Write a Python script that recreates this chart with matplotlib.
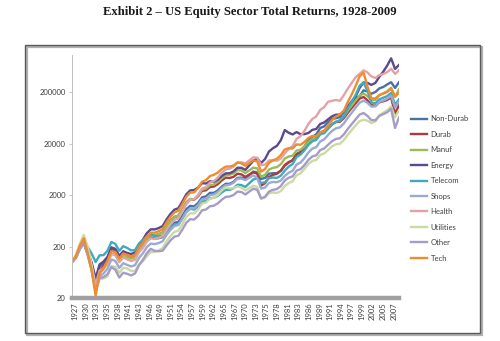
import numpy as np
import matplotlib
matplotlib.use("Agg")
import matplotlib.pyplot as plt
from matplotlib.patches import Rectangle

# Growth of $100, annual points
years = list(range(1926, 2010))

non_durab = [100, 125, 185, 230, 150, 90, 44, 82, 94, 116,
             175, 165, 122, 150, 138, 126, 130, 178, 212, 270,
             300, 285, 290, 305, 400, 490, 580, 600, 790, 1060,
             1230, 1200, 1400, 1800, 1880, 2200, 2200, 2450, 2900, 3300,
             3300, 3600, 4300, 4350, 4200, 4900, 5700, 5500, 4100, 4300,
             5200, 5300, 5300, 5900, 7400, 8500, 9500, 12500, 13800, 17500,
             23000, 27000, 30000, 40000, 43000, 52000, 60000, 62000, 65000, 82000,
             100000, 125000, 150000, 165000, 215000, 205000, 185000, 200000, 235000, 250000,
             280000, 310000, 240000, 310000]

durab = [100, 130, 205, 265, 155, 80, 32, 68, 85, 115,
         190, 175, 127, 155, 142, 130, 134, 183, 220, 285,
         335, 330, 345, 375, 500, 630, 750, 790, 1040, 1430,
         1660, 1620, 1890, 2400, 2470, 2860, 2920, 3250, 3830, 4350,
         4280, 4510, 5190, 5020, 4510, 4980, 5510, 5200, 3040, 3400,
         4470, 4930, 5160, 5940, 7650, 8740, 9400, 12300, 13200, 16000,
         20400, 23900, 25400, 32400, 35200, 41000, 47700, 52000, 53000, 62000,
         79000, 98000, 121000, 149000, 160000, 138000, 111000, 108000, 126000, 132000,
         140000, 158000, 75000, 112000]

manuf = [100, 127, 198, 252, 150, 77, 32, 62, 73, 93,
         145, 140, 105, 131, 124, 116, 124, 173, 214, 283,
         333, 328, 345, 374, 500, 630, 750, 790, 1040, 1420,
         1680, 1660, 1960, 2520, 2660, 3100, 3190, 3570, 4250, 4860,
         4930, 5250, 6120, 5980, 5330, 6020, 6800, 6570, 4560, 4920,
         6240, 6720, 6960, 7920, 10200, 11200, 11600, 14600, 15100, 17600,
         21600, 24400, 25000, 30600, 32000, 38800, 46800, 53000, 56000, 67000,
         87000, 109000, 137000, 171000, 187000, 166000, 140000, 141000, 173000, 189000,
         207000, 242000, 162000, 224000]

energy = [100, 122, 185, 240, 160, 97, 48, 90, 102, 126,
          192, 180, 132, 162, 150, 143, 154, 218, 272, 364,
          432, 430, 456, 499, 672, 860, 1040, 1110, 1490, 2060,
          2460, 2500, 2780, 3400, 3340, 3700, 3600, 3980, 4660, 5260,
          5300, 5740, 6780, 6730, 6150, 7520, 9180, 10300, 8360, 10000,
          14000, 16200, 18000, 23100, 36500, 32300, 30000, 33300, 30400, 30400,
          32000, 36800, 38400, 48000, 51200, 58900, 67500, 72500, 72800, 84000,
          106000, 132000, 163000, 240000, 306000, 300000, 275000, 300000, 395000, 495000,
          650000, 900000, 560000, 670000]

telecom = [100, 125, 185, 240, 195, 145, 100, 135, 136, 165,
           245, 225, 165, 203, 188, 168, 170, 228, 268, 312,
           345, 319, 315, 320, 378, 463, 537, 548, 705, 935,
           1080, 1040, 1190, 1500, 1520, 1740, 1760, 1930, 2240, 2510,
           2520, 2700, 3170, 3120, 2870, 3380, 4000, 4200, 3420, 3530,
           4260, 4370, 4290, 4750, 5950, 7120, 8000, 10900, 12200, 14700,
           18800, 22100, 23500, 30000, 32000, 38800, 46800, 53000, 56200, 68000,
           96000, 130000, 175000, 264000, 306000, 210000, 125000, 121000, 144000, 155000,
           166000, 191000, 113000, 144000]

shops = [100, 120, 180, 228, 135, 72, 28, 53, 60, 74,
         112, 105, 77, 95, 88, 82, 87, 120, 148, 195,
         228, 223, 234, 253, 336, 421, 500, 523, 689, 935,
         1100, 1090, 1280, 1650, 1710, 1990, 2050, 2290, 2710, 3100,
         3160, 3460, 4140, 4160, 3900, 4330, 4810, 4300, 2660, 2790,
         3430, 3580, 3540, 3830, 4680, 5420, 5900, 7810, 8510, 10400,
         13400, 15900, 17000, 21900, 24000, 29300, 35100, 39500, 41100, 49000,
         63200, 79000, 100000, 124000, 136000, 123000, 104000, 105000, 128000, 137000,
         148000, 170000, 100000, 130000]

health = [100, 125, 190, 240, 148, 82, 36, 68, 77, 95,
          144, 135, 99, 122, 113, 105, 110, 153, 188, 247,
          288, 281, 294, 317, 420, 541, 659, 706, 951, 1320,
          1610, 1650, 2000, 2660, 2850, 3480, 3730, 4350, 5370, 6300,
          6460, 7100, 8540, 8620, 8200, 9400, 10800, 10600, 7600, 7790,
          9360, 9520, 9280, 10200, 12750, 15600, 17800, 24600, 27800, 35200,
          48000, 59800, 67200, 90000, 102000, 129000, 135000, 140000, 135000, 174000,
          232000, 300000, 388000, 450000, 527000, 480000, 400000, 375000, 426000, 446000,
          486000, 567000, 450000, 528000]

utilities = [100, 138, 228, 336, 195, 85, 28, 47, 48, 53,
             83, 81, 62, 78, 75, 67, 67, 89, 104, 130,
             156, 157, 168, 186, 252, 320, 384, 406, 541, 743,
             883, 881, 1040, 1360, 1430, 1690, 1770, 2020, 2450, 2850,
             2690, 2700, 2950, 2770, 2460, 2730, 3020, 2860, 1710, 1800,
             2180, 2240, 2200, 2380, 2980, 3420, 3700, 4860, 5270, 6400,
             8000, 9200, 9600, 12000, 12800, 15000, 17600, 19300, 19800, 23300,
             29600, 36500, 45000, 54300, 57800, 55500, 50000, 53800, 69900, 79200,
             88200, 105000, 65000, 88000]

other = [100, 125, 190, 240, 135, 68, 28, 49, 51, 58,
         80, 71, 50, 62, 59, 55, 60, 87, 110, 149,
         180, 165, 162, 166, 210, 263, 311, 324, 426, 578,
         678, 669, 783, 1010, 1045, 1210, 1240, 1375, 1620, 1840,
         1870, 2000, 2330, 2290, 2050, 2330, 2650, 2520, 1710, 1850,
         2340, 2520, 2610, 2970, 3830, 4320, 4600, 5950, 6350, 7600,
         9600, 11200, 11800, 14900, 16000, 18900, 22200, 24500, 25300, 30000,
         38400, 47600, 59000, 72800, 78200, 68600, 56800, 56600, 68700, 74400,
         81000, 94500, 40000, 64000]

tech = [100, 131, 209, 288, 150, 68, 22, 60, 77, 105,
        163, 156, 117, 146, 138, 129, 137, 191, 236, 312,
        372, 371, 396, 435, 588, 757, 922, 987, 1330, 1850,
        2230, 2250, 2730, 3630, 3880, 4660, 4950, 5440, 6340, 7120,
        7140, 7500, 8580, 8250, 7380, 8320, 9400, 9060, 5700, 6400,
        8420, 9410, 10100, 11900, 15300, 16200, 16000, 19200, 18900, 21400,
        25600, 28000, 27800, 33000, 35200, 44800, 56700, 67000, 72800, 86800,
        128000, 180000, 263000, 403000, 476000, 255000, 150000, 150000, 175000, 186000,
        200000, 231000, 163000, 192000]

series_names = ["Non-Durab", "Durab", "Manuf", "Energy", "Telecom",
                "Shops", "Health", "Utilities", "Other", "Tech"]
series_values = [non_durab, durab, manuf, energy, telecom,
                 shops, health, utilities, other, tech]
series_colors = ["#4A70A8", "#B03A3C", "#9BBB59", "#5B4A8C", "#3FA9C0",
                 "#9AAAD0", "#E2A3A8", "#CBDAA2", "#A69CC8", "#F08C2E"]

y_ticks = [20, 200, 2000, 20000, 200000]
x_tick_labels = ["1927", "1930", "1933", "1935", "1938", "1941", "1943", "1946",
                 "1949", "1951", "1954", "1957", "1959", "1962", "1965", "1967",
                 "1970", "1973", "1975", "1978", "1981", "1983", "1986", "1989",
                 "1991", "1994", "1997", "1999", "2002", "2005", "2007"]

plt.rcParams["font.family"] = ["Lato", "DejaVu Sans"]

fig = plt.figure(figsize=(5.0, 3.41), dpi=100)
fig.patch.set_facecolor("white")

# outer frame with a light drop shadow
fig.patches.append(Rectangle((0.053, 0.018), 0.91, 0.845, transform=fig.transFigure,
                             facecolor="none", edgecolor="#B0B0B0", lw=1.6, zorder=-2))
fig.patches.append(Rectangle((0.05, 0.0235), 0.91, 0.8446, transform=fig.transFigure,
                             facecolor="none", edgecolor="#5A5A5A", lw=1.0, zorder=-1))

fig.text(0.5, 0.965, "Exhibit 2 \u2013 US Equity Sector Total Returns, 1928-2009",
         ha="center", va="center", fontsize=9.1, fontweight="bold",
         family=["Liberation Serif", "DejaVu Serif"], color="#1A1A1A")

ax = fig.add_axes([0.144, 0.126, 0.654, 0.713])
ax.set_facecolor("none")

for name, vals, col in zip(series_names, series_values, series_colors):
    ax.plot(years, vals, color=col, lw=1.7, label=name, solid_joinstyle="round")

ax.set_yscale("log")
ax.set_ylim(20, 1.05e6)
ax.set_xlim(1926, 2009)
ax.set_yticks(y_ticks)
ax.set_yticklabels([str(v) for v in y_ticks])
ax.yaxis.set_minor_locator(matplotlib.ticker.NullLocator())
ax.set_xticks(np.linspace(1926.76, 2007.7, len(x_tick_labels)))
ax.set_xticklabels(x_tick_labels, rotation=90)

ax.tick_params(axis="y", labelsize=5.5, labelcolor="#404040", color="#BFBFBF",
               length=2.5, width=0.6, pad=2)
ax.tick_params(axis="x", labelsize=5.5, labelcolor="#404040", length=0, pad=3)

for side in ("top", "right"):
    ax.spines[side].set_visible(False)
ax.spines["left"].set_color("#BFBFBF")
ax.spines["left"].set_linewidth(0.7)
ax.spines["bottom"].set_color("#A0A0A0")
ax.spines["bottom"].set_linewidth(3.2)

fig.legend(loc="upper left", bbox_to_anchor=(0.822, 0.662), frameon=False,
           fontsize=5.5, handlelength=2.1, handletextpad=0.45, labelspacing=1.11,
           borderpad=0, borderaxespad=0, labelcolor="#404040")

fig.savefig("out.png", dpi=100, facecolor="white")
